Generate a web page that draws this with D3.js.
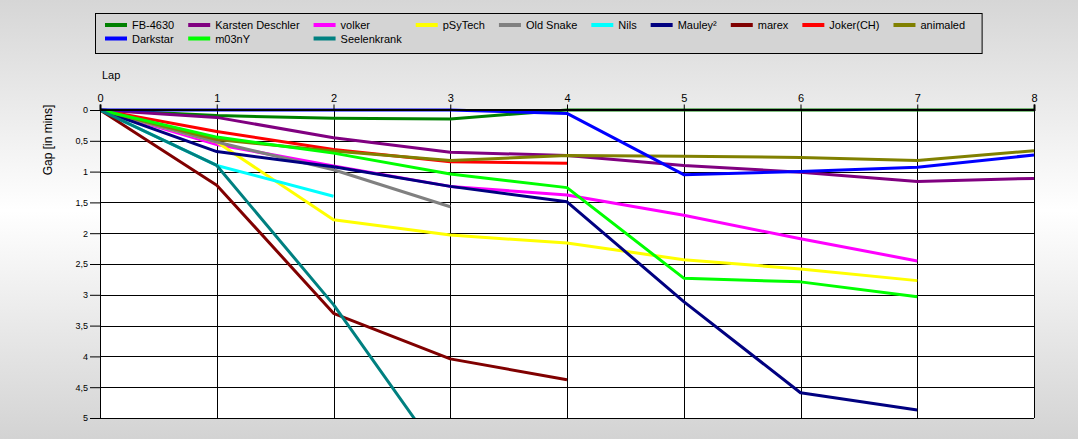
<!DOCTYPE html>
<html>
<head>
<meta charset="utf-8">
<script src="https://cdn.jsdelivr.net/npm/d3@7"></script>
<style>
  html, body { margin: 0; padding: 0; }
  body { width: 1078px; height: 439px; overflow: hidden; }
  svg { display: block; font-family: "Liberation Sans", Arial, sans-serif; }
</style>
</head>
<body>
<svg id="chart" width="1078" height="439"></svg>
<script>
// ---- data ----
const laps = [0, 1, 2, 3, 4, 5, 6, 7, 8];
const yTicks = [0, 0.5, 1, 1.5, 2, 2.5, 3, 3.5, 4, 4.5, 5];
const drivers = ["FB-4630", "Karsten Deschler", "volker", "pSyTech", "Old Snake", "Nils", "Mauley²", "marex", "Joker(CH)", "animaled", "Darkstar", "m03nY", "Seelenkrank"];
const colors = ["#008000", "#800080", "#ff00ff", "#ffff00", "#808080", "#00ffff", "#000080", "#800000", "#ff0000", "#808000", "#0000ff", "#00ff00", "#008080"];
const gapFB4630 = [0, 0.09, 0.135, 0.145, 0, 0, 0, 0, 0];
const gapKarsten = [0, 0.12, 0.45, 0.685, 0.74, 0.9, 1.01, 1.16, 1.11];
const gapVolker = [0, 0.56, 0.91, 1.24, 1.38, 1.71, 2.09, 2.45];
const gapPSyTech = [0, 0.52, 1.78, 2.03, 2.16, 2.43, 2.58, 2.77];
const gapOldSnake = [0, 0.52, 0.97, 1.57];
const gapNils = [0, 0.9, 1.4];
const gapMauley = [0, 0.675, 0.92, 1.24, 1.49, 3.11, 4.59, 4.87];
const gapMarex = [0, 1.22, 3.3, 4.04, 4.38];
const gapJoker = [0, 0.35, 0.64, 0.84, 0.865];
const gapAnimaled = [0, 0.48, 0.665, 0.82, 0.74, 0.75, 0.77, 0.82, 0.66];
const gapDarkstar = [0, 0, 0, 0, 0.055, 1.05, 1.0, 0.93, 0.73];
const gapM03nY = [0, 0.44, 0.7, 1.04, 1.26, 2.73, 2.79, 3.03];
const gapSeelenkrank = [0, 0.9, 3.16, 5.83];
const allGaps = [gapFB4630, gapKarsten, gapVolker, gapPSyTech, gapOldSnake, gapNils, gapMauley, gapMarex, gapJoker, gapAnimaled, gapDarkstar, gapM03nY, gapSeelenkrank];
const legendCols = 10;

// ---- drawing ----
const svg = d3.select("#chart");
const W = 1078, H = 439;
const plot = { left: 100, right: 1034, top: 110, bottom: 418 };

const defs = svg.append("defs");
const grad = defs.append("linearGradient").attr("id", "bg").attr("x1", 0).attr("y1", 0).attr("x2", 0).attr("y2", 1);
grad.append("stop").attr("offset", "0%").attr("stop-color", "#d6d6d6");
grad.append("stop").attr("offset", "48%").attr("stop-color", "#ffffff");
grad.append("stop").attr("offset", "100%").attr("stop-color", "#d3d3d3");
defs.append("clipPath").attr("id", "clip").append("rect")
  .attr("x", plot.left).attr("y", plot.top - 3)
  .attr("width", plot.right - plot.left + 3).attr("height", plot.bottom - plot.top + 3);

svg.append("rect").attr("width", W).attr("height", H).attr("fill", "url(#bg)");

const x = d3.scaleLinear().domain([0, 8]).range([plot.left, plot.right]);
const y = d3.scaleLinear().domain([0, 5]).range([plot.top, plot.bottom]);

// plot background
svg.append("rect").attr("x", plot.left).attr("y", plot.top)
  .attr("width", plot.right - plot.left).attr("height", plot.bottom - plot.top)
  .attr("fill", "#ffffff");

// grid
const grid = svg.append("g").attr("shape-rendering", "crispEdges").attr("stroke", "#000").attr("stroke-width", 1);
grid.selectAll("line.h").data(yTicks).join("line").attr("class", "h")
  .attr("x1", plot.left).attr("x2", plot.right)
  .attr("y1", d => Math.round(y(d)) + 0.5).attr("y2", d => Math.round(y(d)) + 0.5);
grid.selectAll("line.v").data(laps).join("line").attr("class", "v")
  .attr("x1", d => Math.round(x(d)) + 0.5).attr("x2", d => Math.round(x(d)) + 0.5)
  .attr("y1", plot.top).attr("y2", plot.bottom);

// series
const line = d3.line().x((d, i) => x(laps[i])).y(d => y(d));
const series = drivers.map((name, i) => ({ name, color: colors[i], values: allGaps[i] }));
svg.append("g").attr("clip-path", "url(#clip)")
  .selectAll("path").data(series).join("path")
  .attr("d", d => line(d.values))
  .attr("fill", "none").attr("stroke", d => d.color).attr("stroke-width", 3)
  .attr("stroke-linejoin", "round");

// axes (drawn above the series)
const xAxis = svg.append("g").attr("transform", `translate(0,${plot.top - 0.5})`)
  .call(d3.axisTop(x).tickValues(laps).tickSize(5).tickPadding(3).tickFormat(d3.format("d")));
xAxis.select(".domain").attr("stroke", "#000").attr("stroke-width", 2);
xAxis.selectAll("text").attr("font-size", 11).attr("fill", "#000").attr("font-family", "Liberation Sans, Arial, sans-serif");
xAxis.selectAll(".tick line").attr("stroke", "#000");

const yAxis = svg.append("g").attr("transform", `translate(${plot.left},0)`)
  .call(d3.axisLeft(y).tickValues(yTicks).tickSize(10).tickPadding(2)
    .tickFormat(d => String(d).replace(".", ",")));
yAxis.select(".domain").attr("stroke", "#000");
yAxis.selectAll("text").attr("font-size", 9).attr("fill", "#000").attr("font-family", "Liberation Sans, Arial, sans-serif");
yAxis.selectAll(".tick line").attr("stroke", "#000");

// titles
svg.append("text").attr("x", 102).attr("y", 79).attr("font-size", 11).attr("fill", "#000").text("Lap");
svg.append("text").attr("transform", "translate(52,140) rotate(-90)").attr("text-anchor", "middle")
  .attr("font-size", 12).attr("fill", "#000").text("Gap [in mins]");

// legend
const lg = svg.append("g");
const legendBox = lg.append("rect").attr("x", 95.5).attr("y", 13.5).attr("height", 40)
  .attr("fill", "#d4d4d4").attr("stroke", "#000").attr("stroke-width", 1);
const rowY = [25, 38.5];
const items = series.map((s, i) => ({ ...s, row: Math.floor(i / legendCols), col: i % legendCols }));
const tmp = lg.append("g");
items.forEach(it => {
  const t = tmp.append("text").attr("font-size", 11).text(it.name);
  it.w = t.node().getComputedTextLength();
});
tmp.remove();
const colW = d3.range(legendCols).map(c => d3.max(items.filter(it => it.col === c), it => it.w));
const colX = [];
let cx = 105;
for (let c = 0; c < legendCols; c++) { colX.push(cx); cx += 27 + colW[c] + 14; }
legendBox.attr("width", cx - 14 + 17 - 95.5);
const ig = lg.selectAll("g.item").data(items).join("g").attr("class", "item");
ig.append("line")
  .attr("x1", d => colX[d.col]).attr("x2", d => colX[d.col] + 22)
  .attr("y1", d => rowY[d.row]).attr("y2", d => rowY[d.row])
  .attr("stroke", d => d.color).attr("stroke-width", 4);
ig.append("text")
  .attr("x", d => colX[d.col] + 27).attr("y", d => rowY[d.row] + 4)
  .attr("font-size", 11).attr("fill", "#000").text(d => d.name);
</script>
</body>
</html>
